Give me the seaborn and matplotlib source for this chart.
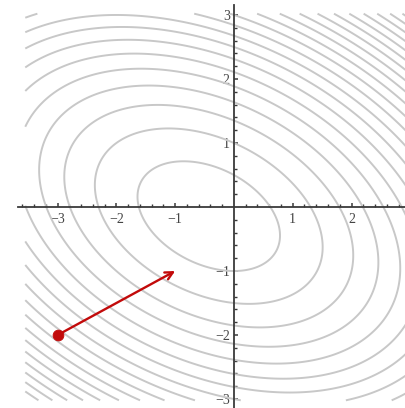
import numpy as np
import matplotlib
matplotlib.use('Agg')
import matplotlib.pyplot as plt
import seaborn as sns

# f(x, y) = a*x^2 + b*x*y + c*y^2 + d*x + e*y  (coeficientes)
coef_a, coef_b, coef_c, coef_d, coef_e = 1.0, 1.0, 2.0, 1.0, 1.0
levels = list(range(1, 45, 2))
x_range = [-3.55, 3.0]
y_range = [-3.02, 3.02]

# ponto inicial e fim da seta
start = [-3.0, -2.0]
end = [-1.0, -1.0]

x_labels = [-3, -2, -1, 1, 2]
y_labels = [-3, -2, -1, 1, 2, 3]

sns.set_style('white')
plt.rcParams['font.family'] = ['Liberation Serif', 'DejaVu Serif']

red = '#c20a0a'
axis_color = '#3a3a3a'

fig = plt.figure(figsize=(4.05, 4.08), dpi=100)
ax = fig.add_axes([0, 0, 1, 1])

xs = np.linspace(x_range[0], x_range[1], 500)
ys = np.linspace(y_range[0], y_range[1], 500)
X, Y = np.meshgrid(xs, ys)
Z = coef_a * X**2 + coef_b * X * Y + coef_c * Y**2 + coef_d * X + coef_e * Y
ax.contour(X, Y, Z, levels=levels, colors='#c8c8c8', linewidths=1.4)

# eixos cruzando na origem
ax.set_xlim(-3.98, 2.91)
ax.set_ylim(-3.14, 3.234)
for s in ['top', 'right']:
    ax.spines[s].set_visible(False)
ax.spines['left'].set_position(('data', 0))
ax.spines['bottom'].set_position(('data', 0))
ax.spines['bottom'].set_bounds(-3.67, 2.91)
ax.spines['left'].set_bounds(-3.14, 3.16)
for s in ['left', 'bottom']:
    ax.spines[s].set_color(axis_color)
    ax.spines[s].set_linewidth(1.3)
    ax.spines[s].set_zorder(4)

ax.set_xticks(x_labels)
ax.set_xticklabels([f'\u2212{abs(v)}' if v < 0 else str(v) for v in x_labels])
ax.set_yticks(y_labels)
ax.set_yticklabels([f'\u2212{abs(v)}' if v < 0 else str(v) for v in y_labels])
ax.set_xticks([t for t in np.round(np.arange(-3.6, 2.9, 0.2), 1) if t not in x_labels and abs(t) > 0.01], minor=True)
ax.set_yticks([t for t in np.round(np.arange(-3.0, 3.1, 0.2), 1) if t not in y_labels and abs(t) > 0.01], minor=True)
ax.tick_params(which='minor', bottom=True, left=True, direction='in', length=2.5, width=1.0, color=axis_color)
ax.tick_params(which='major', bottom=True, left=True, direction='in', length=3.2, width=1.1, color=axis_color)
ax.tick_params(axis='x', which='major', labelsize=10, labelcolor='#444444', pad=4)
ax.tick_params(axis='y', which='major', labelsize=10, labelcolor='#444444', pad=3)

# seta e ponto
ax.annotate('', xy=end, xytext=start,
            arrowprops=dict(arrowstyle='->,head_length=0.55,head_width=0.28',
                            color=red, lw=1.7, shrinkA=0, shrinkB=0), zorder=5)
sns.scatterplot(x=[start[0]], y=[start[1]], s=60, color=red, edgecolor=red, ax=ax, zorder=6, legend=False)

fig.savefig('out.png', dpi=100)
